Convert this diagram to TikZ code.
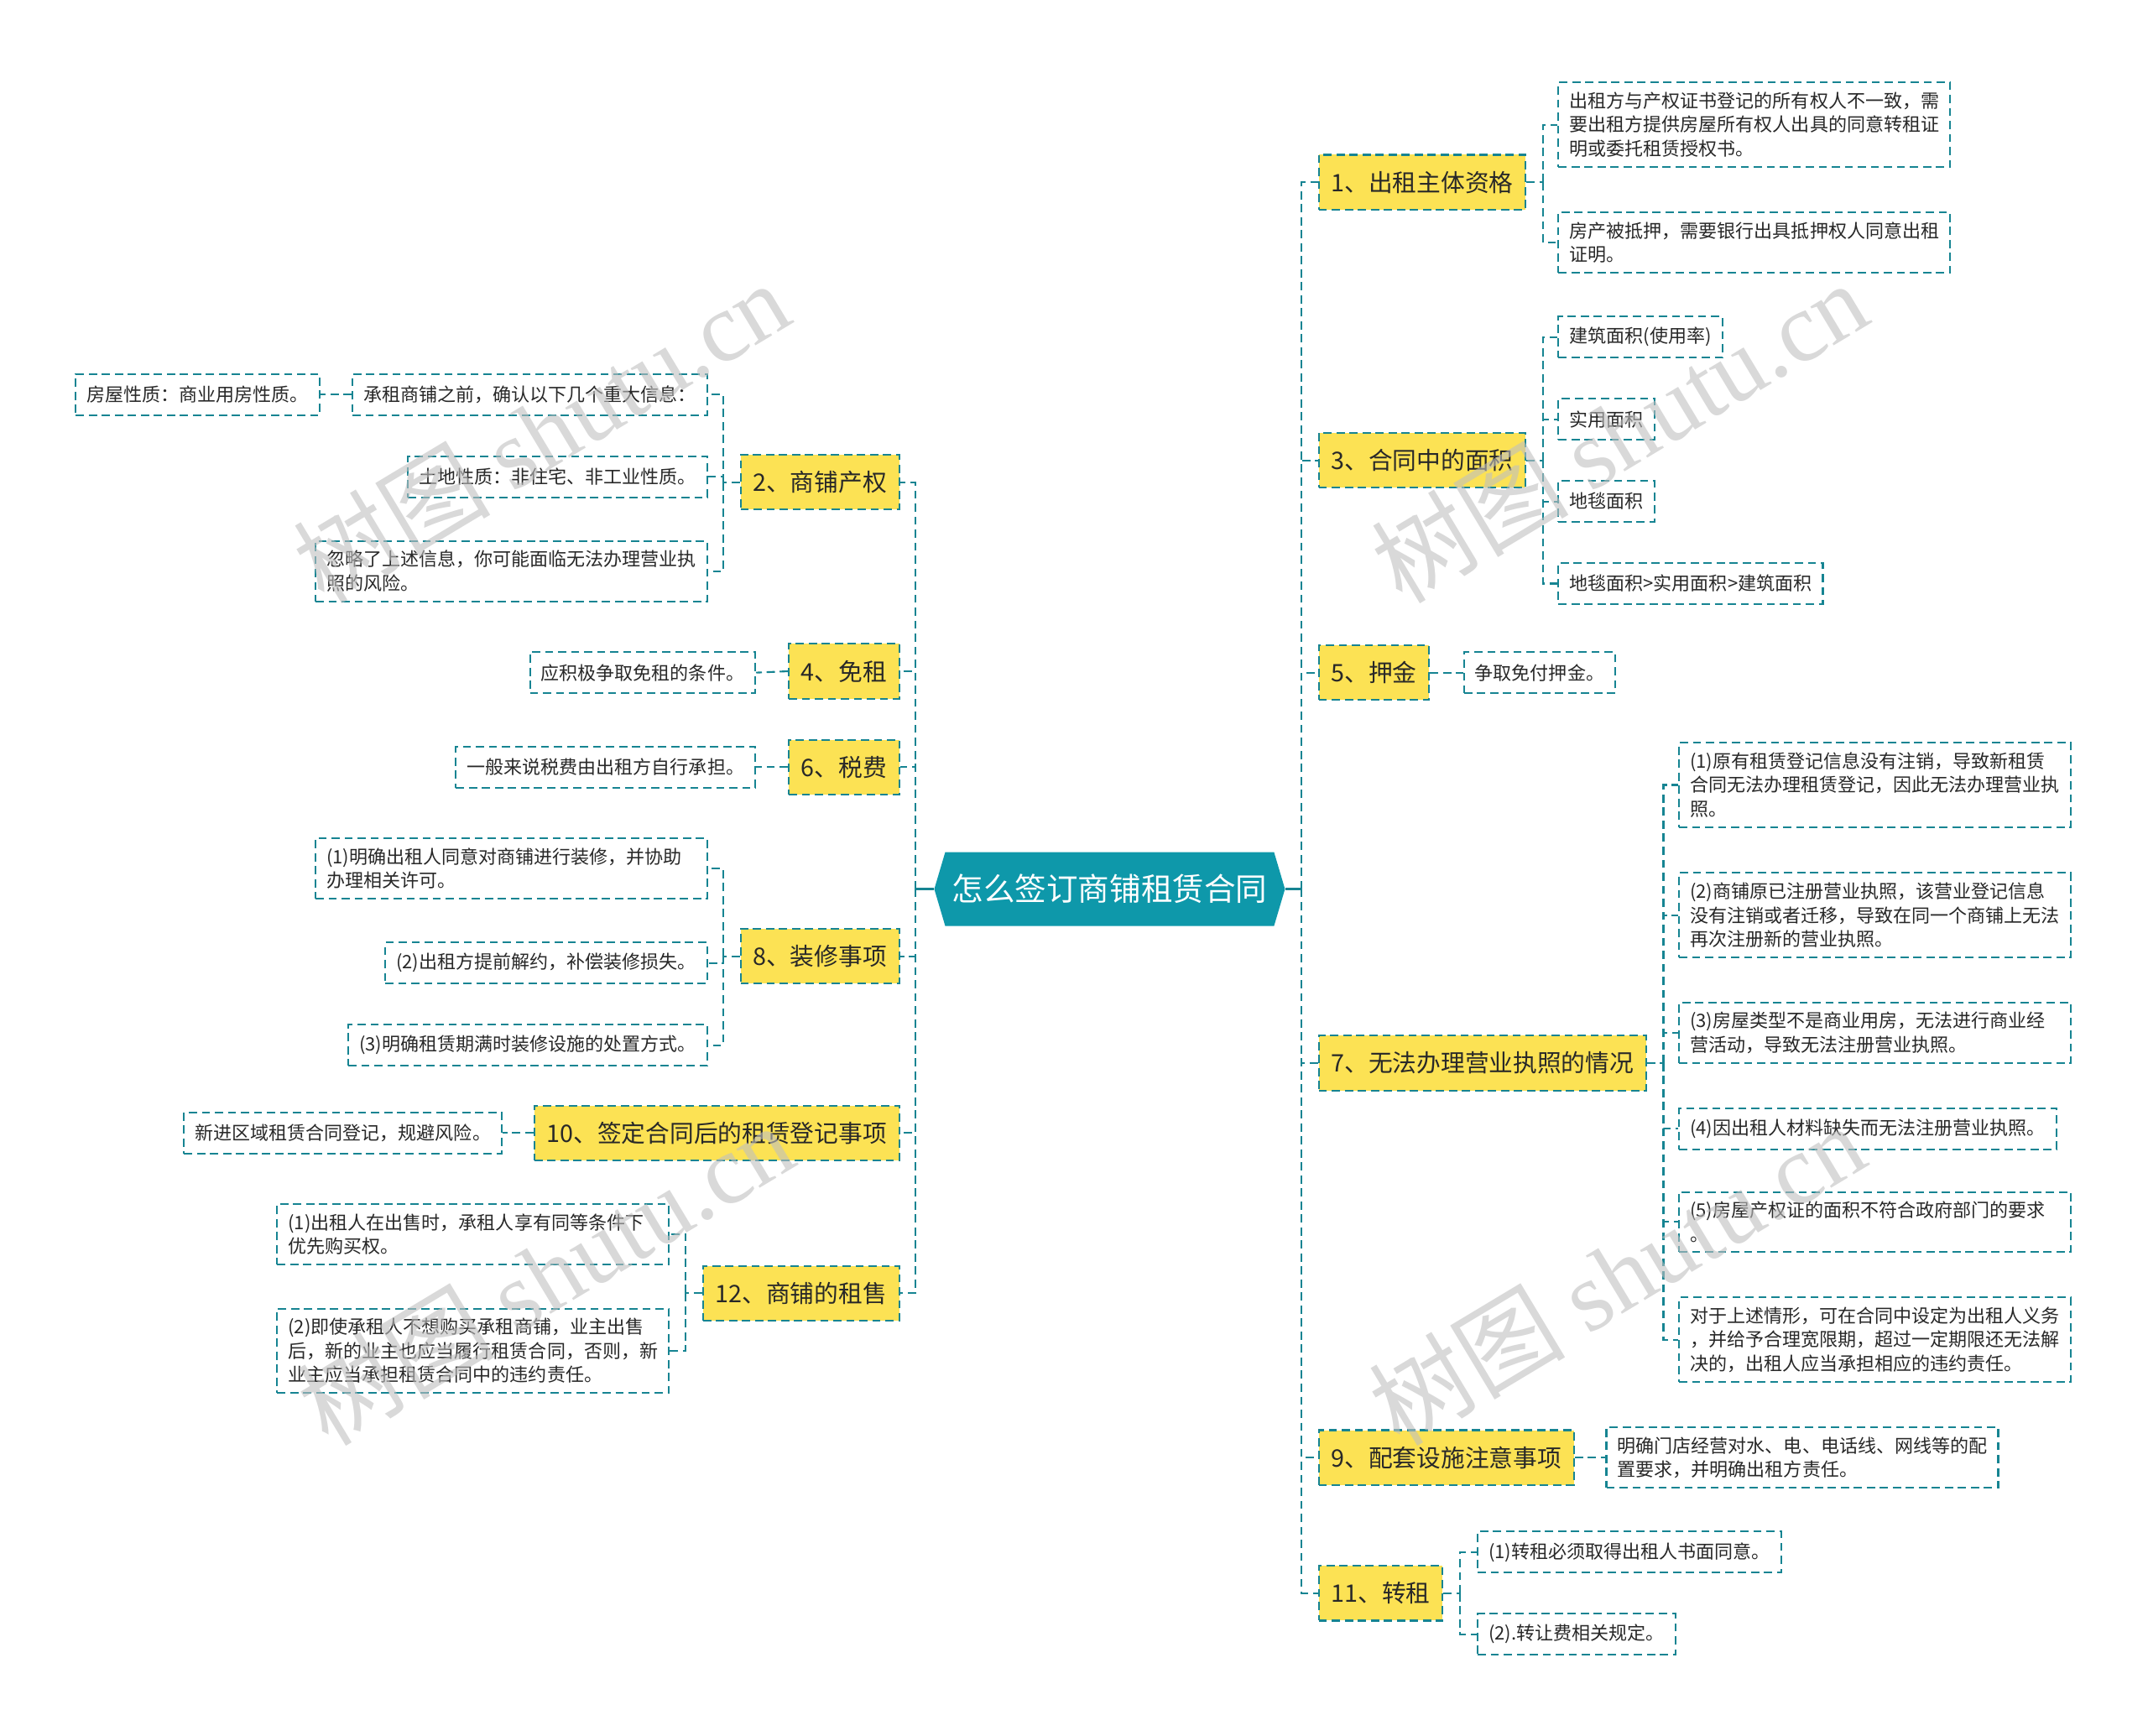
\documentclass[tikz,border=0pt]{standalone}
\usepackage{fontspec}
\setmainfont{Noto Sans CJK SC}
\newfontfamily\wmlatin{Liberation Serif}
\usetikzlibrary{shapes.symbols}
\definecolor{rootteal}{RGB}{14,152,170}
\definecolor{lineteal}{RGB}{22,132,146}
\definecolor{catyellow}{RGB}{252,226,84}
\definecolor{txtgray}{RGB}{40,40,40}
\tikzset{
  link/.style={draw=lineteal, line width=1.3pt, dash pattern=on 6pt off 3.5pt},
  rootlink/.style={draw=lineteal, line width=1.6pt},
  rootnode/.style={shape=signal, signal to=east and west, signal pointer angle=147,
    fill=rootteal, text=white, minimum width=256pt, minimum height=54pt,
    inner sep=2pt, font=\fontsize{23}{27}\selectfont},
  catbox/.style={link, fill=catyellow, text=txtgray, minimum height=40pt,
    inner xsep=9pt, inner ysep=4pt, font=\fontsize{17.6}{21}\selectfont},
  leafbox/.style={link, fill=white, text=txtgray, minimum height=30pt,
    inner xsep=8pt, inner ysep=7pt, align=left, font=\fontsize{13.5}{17.5}\selectfont},
  leafwide/.style={leafbox, text width=270pt},
  wmark/.style={text=gray!50, opacity=0.6, rotate=31, font=\fontsize{72}{72}\selectfont}
}
\begin{document}
\begin{tikzpicture}[x=1pt, y=-1pt]
    \useasboundingbox (0,0) rectangle (1568,1267);

    % Root
    \node[rootnode] (root) at (810,649) {怎么签订商铺租赁合同};
    \coordinate (rtrunk) at (950,649);
    \coordinate (ltrunk) at (668,649);
    \draw[rootlink] (root.east) -- (rtrunk);
    \draw[rootlink] (root.west) -- (ltrunk);

    % Right branches
    \node[catbox, anchor=west] (c1) at (962,133) {1、出租主体资格};
    \node[catbox, anchor=west] (c3) at (962,336) {3、合同中的面积};
    \node[catbox, anchor=west] (c5) at (962,491) {5、押金};
    \node[catbox, anchor=west] (c7) at (962,776) {7、无法办理营业执照的情况};
    \node[catbox, anchor=west] (c9) at (962,1064) {9、配套设施注意事项};
    \node[catbox, anchor=west] (c11) at (962,1163) {11、转租};
    \foreach \c in {c1,c3,c5,c7,c9,c11}
        \draw[link] (rtrunk) |- (\c.west);

    % 1
    \node[leafwide, anchor=west] (l1a) at (1137,91) {出租方与产权证书登记的所有权人不一致，需\\要出租方提供房屋所有权人出具的同意转租证\\明或委托租赁授权书。};
    \node[leafwide, anchor=west] (l1b) at (1137,177) {房产被抵押，需要银行出具抵押权人同意出租\\证明。};
    \draw[link] (c1.east) -- ++(12,0) coordinate (j1);
    \foreach \l in {l1a,l1b}
        \draw[link] (j1) |- (\l.west);

    % 3
    \node[leafbox, anchor=west] (l3a) at (1137,246) {建筑面积(使用率)};
    \node[leafbox, anchor=west] (l3b) at (1137,306) {实用面积};
    \node[leafbox, anchor=west] (l3c) at (1137,366) {地毯面积};
    \node[leafbox, anchor=west] (l3d) at (1137,426) {地毯面积>实用面积>建筑面积};
    \draw[link] (c3.east) -- ++(12,0) coordinate (j3);
    \foreach \l in {l3a,l3b,l3c,l3d}
        \draw[link] (j3) |- (\l.west);

    % 5
    \node[leafbox, anchor=west] (l5) at (1068,491) {争取免付押金。};
    \draw[link] (c5.east) -- (l5.west);

    % 7
    \node[leafwide, anchor=west] (l7a) at (1225,573) {(1)原有租赁登记信息没有注销，导致新租赁\\合同无法办理租赁登记，因此无法办理营业执\\照。};
    \node[leafwide, anchor=west] (l7b) at (1225,668) {(2)商铺原已注册营业执照，该营业登记信息\\没有注销或者迁移，导致在同一个商铺上无法\\再次注册新的营业执照。};
    \node[leafwide, anchor=west] (l7c) at (1225,754) {(3)房屋类型不是商业用房，无法进行商业经\\营活动，导致无法注册营业执照。};
    \node[leafbox, anchor=west] (l7d) at (1225,824) {(4)因出租人材料缺失而无法注册营业执照。};
    \node[leafwide, anchor=west] (l7e) at (1225,892) {(5)房屋产权证的面积不符合政府部门的要求\\。};
    \node[leafwide, anchor=west] (l7f) at (1225,978) {对于上述情形，可在合同中设定为出租人义务\\，并给予合理宽限期，超过一定期限还无法解\\决的，出租人应当承担相应的违约责任。};
    \draw[link] (c7.east) -- ++(12,0) coordinate (j7);
    \foreach \l in {l7a,l7b,l7c,l7d,l7e,l7f}
        \draw[link] (j7) |- (\l.west);

    % 9
    \node[leafwide, anchor=west] (l9) at (1172,1064) {明确门店经营对水、电、电话线、网线等的配\\置要求，并明确出租方责任。};
    \draw[link] (c9.east) -- (l9.west);

    % 11
    \node[leafbox, anchor=west] (l11a) at (1078,1133) {(1)转租必须取得出租人书面同意。};
    \node[leafbox, anchor=west] (l11b) at (1078,1193) {(2).转让费相关规定。};
    \draw[link] (c11.east) -- ++(12,0) coordinate (j11);
    \foreach \l in {l11a,l11b}
        \draw[link] (j11) |- (\l.west);

    % Left branches
    \node[catbox, anchor=east] (c2) at (657,352) {2、商铺产权};
    \node[catbox, anchor=east] (c4) at (657,490) {4、免租};
    \node[catbox, anchor=east] (c6) at (657,560) {6、税费};
    \node[catbox, anchor=east] (c8) at (657,698) {8、装修事项};
    \node[catbox, anchor=east] (c10) at (657,827) {10、签定合同后的租赁登记事项};
    \node[catbox, anchor=east] (c12) at (657,944) {12、商铺的租售};
    \foreach \c in {c2,c4,c6,c8,c10,c12}
        \draw[link] (ltrunk) |- (\c.east);

    % 2
    \node[leafbox, anchor=east] (l2a) at (517,288) {承租商铺之前，确认以下几个重大信息：};
    \node[leafbox, anchor=east] (l2x) at (234,288) {房屋性质：商业用房性质。};
    \node[leafbox, anchor=east] (l2b) at (517,348) {土地性质：非住宅、非工业性质。};
    \node[leafwide, anchor=east] (l2c) at (517,417) {忽略了上述信息，你可能面临无法办理营业执\\照的风险。};
    \draw[link] (c2.west) -- ++(-12,0) coordinate (j2);
    \foreach \l in {l2a,l2b,l2c}
        \draw[link] (j2) |- (\l.east);
    \draw[link] (l2a.west) -- (l2x.east);

    % 4 and 6
    \node[leafbox, anchor=east] (l4) at (552,491) {应积极争取免租的条件。};
    \draw[link] (c4.west) -- (l4.east);
    \node[leafbox, anchor=east] (l6) at (552,560) {一般来说税费由出租方自行承担。};
    \draw[link] (c6.west) -- (l6.east);

    % 8
    \node[leafwide, anchor=east] (l8a) at (517,634) {(1)明确出租人同意对商铺进行装修，并协助\\办理相关许可。};
    \node[leafbox, anchor=east] (l8b) at (517,703) {(2)出租方提前解约，补偿装修损失。};
    \node[leafbox, anchor=east] (l8c) at (517,763) {(3)明确租赁期满时装修设施的处置方式。};
    \draw[link] (c8.west) -- ++(-12,0) coordinate (j8);
    \foreach \l in {l8a,l8b,l8c}
        \draw[link] (j8) |- (\l.east);

    % 10
    \node[leafbox, anchor=east] (l10) at (367,827) {新进区域租赁合同登记，规避风险。};
    \draw[link] (c10.west) -- (l10.east);

    % 12
    \node[leafwide, anchor=east] (l12a) at (489,901) {(1)出租人在出售时，承租人享有同等条件下\\优先购买权。};
    \node[leafwide, anchor=east] (l12b) at (489,986) {(2)即使承租人不想购买承租商铺，业主出售\\后，新的业主也应当履行租赁合同，否则，新\\业主应当承担租赁合同中的违约责任。};
    \draw[link] (c12.west) -- ++(-12,0) coordinate (j12);
    \foreach \l in {l12a,l12b}
        \draw[link] (j12) |- (\l.east);

    % Watermarks
    \foreach \p [count=\i] in {(395,315),(1182,315),(398,930),(1180,930)}
        \node[wmark] (wm\i) at \p {树图 {\wmlatin shutu.cn}};
\end{tikzpicture}
\end{document}
